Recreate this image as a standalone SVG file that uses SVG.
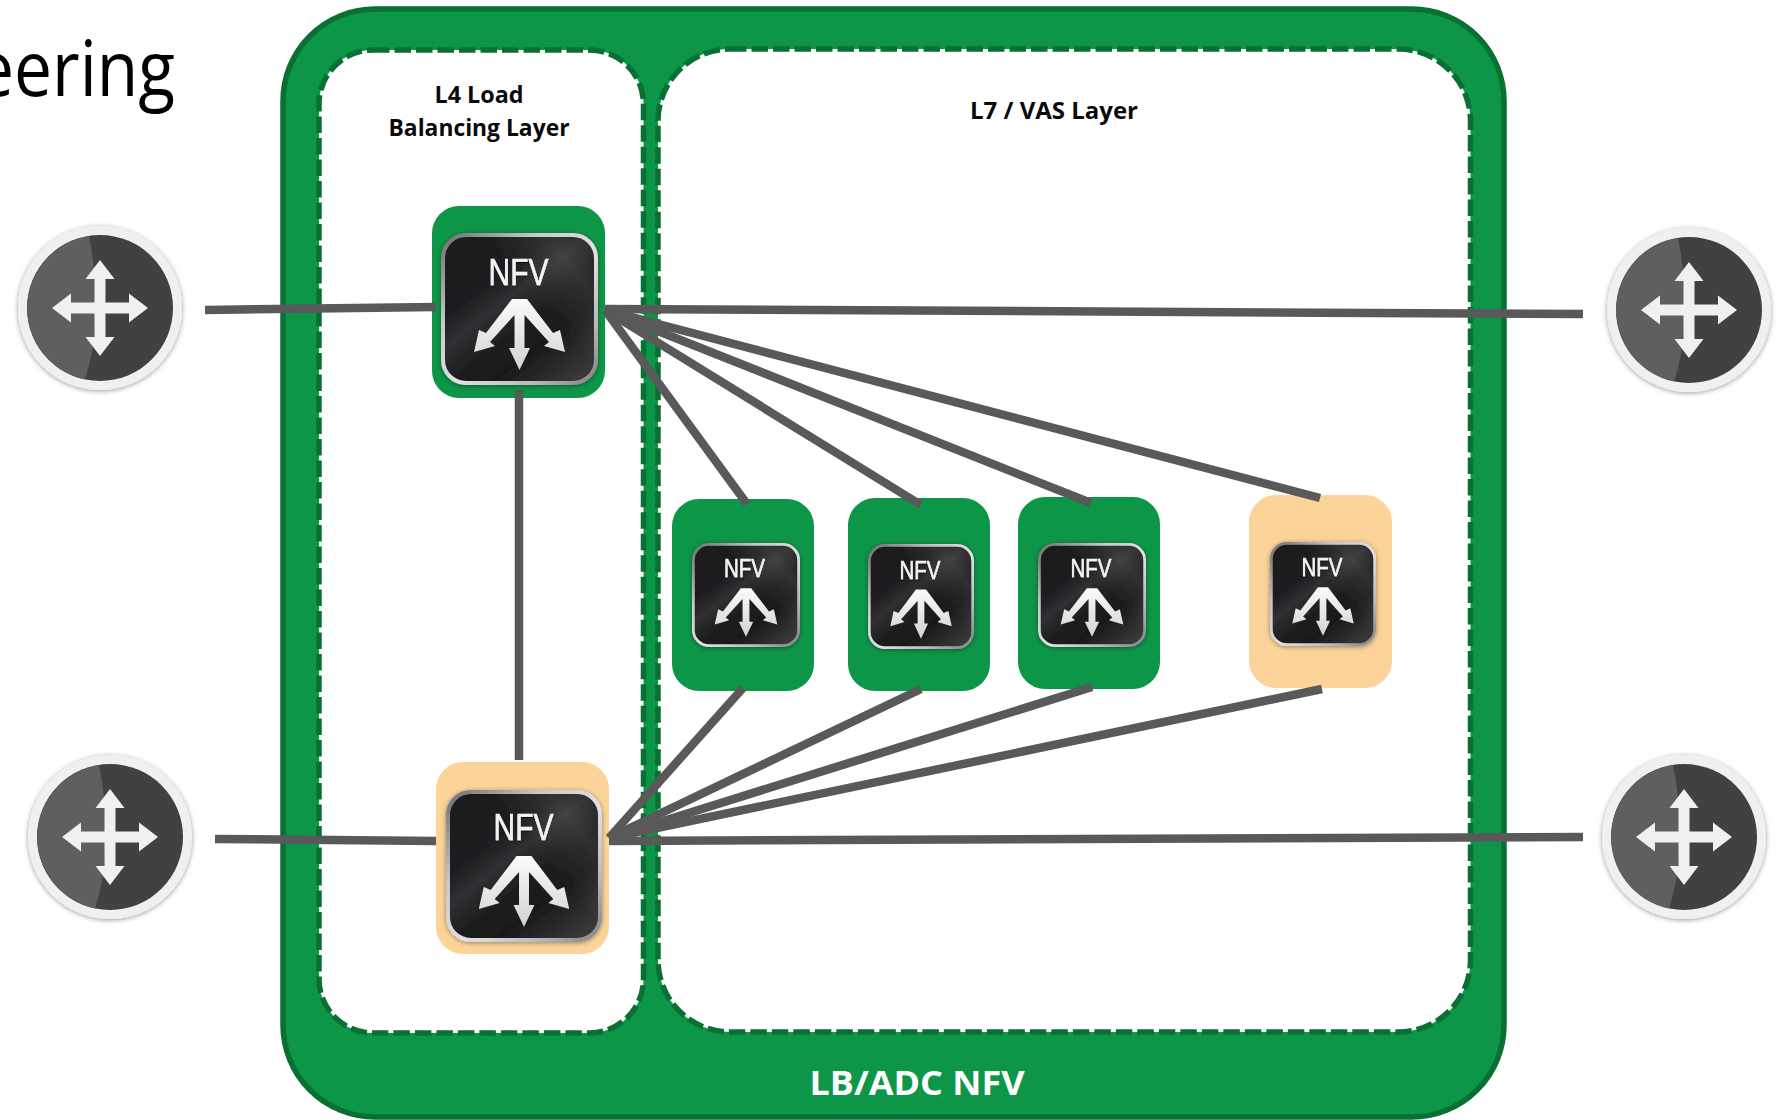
<svg xmlns="http://www.w3.org/2000/svg" xmlns:xlink="http://www.w3.org/1999/xlink" width="1789" height="1120" viewBox="0 0 1789 1120">
<style>
.bold{font-family:"Open Sans","Liberation Sans",sans-serif;font-weight:700;text-anchor:middle}
.lbl{font-size:24px;fill:#0a0a0a}
.nfv{font-family:"Liberation Sans",Arial,sans-serif;text-anchor:middle;fill:#f2f2f2;stroke:#f2f2f2;stroke-width:0.5;filter:url(#ts)}
.pillG{fill:#0e9648}
.pillO{fill:#fcd499}
.panel{fill:#fff;stroke:#087033;stroke-width:5.5;stroke-dasharray:16.5 5}
.conn{stroke:#595959;stroke-width:8.5;fill:none;stroke-linecap:butt}
</style>
<defs>
<filter id="sh" x="-15%" y="-15%" width="130%" height="130%"><feDropShadow dx="0" dy="1" stdDeviation="2.5" flood-color="#000" flood-opacity="0.4"/></filter>
<filter id="ts" x="-10%" y="-10%" width="120%" height="130%"><feDropShadow dx="0" dy="1" stdDeviation="0.6" flood-color="#000" flood-opacity="0.9"/></filter>
<linearGradient id="metal" x1="0" y1="0" x2="1" y2="1">
<stop offset="0" stop-color="#6e6e72"/><stop offset="0.3" stop-color="#c8c8ca"/><stop offset="0.55" stop-color="#e2e2e3"/><stop offset="0.8" stop-color="#b8b8ba"/><stop offset="1" stop-color="#828284"/>
</linearGradient>
<linearGradient id="dark" x1="0.1" y1="0" x2="0.9" y2="1">
<stop offset="0" stop-color="#1b1b1d"/><stop offset="0.3" stop-color="#1e1e20"/><stop offset="0.42" stop-color="#303032"/><stop offset="0.58" stop-color="#1d1d1f"/><stop offset="0.72" stop-color="#19191b"/><stop offset="1" stop-color="#3c3c3c"/>
</linearGradient>
<linearGradient id="darkB" x1="1" y1="0" x2="0" y2="0.8">
<stop offset="0" stop-color="#fff" stop-opacity="0"/><stop offset="0.2" stop-color="#fff" stop-opacity="0.09"/><stop offset="0.45" stop-color="#fff" stop-opacity="0"/><stop offset="1" stop-color="#fff" stop-opacity="0"/>
</linearGradient>
<linearGradient id="arr" x1="0" y1="0" x2="0" y2="1">
<stop offset="0" stop-color="#fbfbfb"/><stop offset="1" stop-color="#d2d2d2"/>
</linearGradient>
<symbol id="icon" viewBox="0 0 157 152" preserveAspectRatio="none">
<rect x="2" y="2" width="153" height="148" rx="23" fill="url(#dark)" stroke="url(#metal)" stroke-width="4"/>
<rect x="4" y="4" width="149" height="144" rx="21" fill="url(#darkB)"/>
<polygon fill="url(#arr)" points="86,66 112,100 119,97 124,119 103,113 108,109 83.500,82 83.500,115 89,115 78.500,137 68,115 73.500,115 73.500,82 49,109 54,113 33,119 38,97 45,100 71,66"/>
</symbol>
<g id="router">
<circle r="82" fill="#f0f0f0" filter="url(#sh)"/>
<circle r="73" fill="#414141"/>
<path d="M-11,-72 C-5,-42 -3,-10 -5,15 C-6,40 -10,55 -15,71.500 A73,73 0 0 1 -11,-72 Z" fill="#5f5f61"/>
<polygon fill="#f0f0f0" points="0,-48 14.500,-29 5.500,-29 5.500,-5.500 29,-5.500 29,-14.500 48,0 29,14.500 29,5.500 5.500,5.500 5.500,29 14.500,29 0,48 -14.500,29 -5.500,29 -5.500,5.500 -29,5.500 -29,14.500 -48,0 -29,-14.500 -29,-5.500 -5.500,-5.500 -5.500,-29 -14.500,-29"/>
</g>
</defs>

<rect width="1789" height="1120" fill="#fff"/>
<text id="title" x="-24" y="96" font-family="'Open Sans','Liberation Sans',sans-serif" font-size="76" fill="#000" textLength="199" lengthAdjust="spacingAndGlyphs">eering</text>

<g id="lb-adc-nfv">
<rect x="283" y="9" width="1221" height="1108" rx="92" fill="#0e9648" stroke="#087033" stroke-width="5.500"/>
<text class="bold" x="917" y="1095" font-size="34" fill="#fff" textLength="215" lengthAdjust="spacingAndGlyphs">LB/ADC NFV</text>
</g>

<g id="l4-layer">
<rect class="panel" x="319" y="50" width="324.500" height="983" rx="54"/>
<text class="bold lbl" x="479" y="103" textLength="89" lengthAdjust="spacingAndGlyphs">L4 Load</text>
<text class="bold lbl" x="479" y="136" textLength="181" lengthAdjust="spacingAndGlyphs">Balancing Layer</text>
</g>

<g id="l7-layer">
<rect class="panel" x="658" y="49" width="812.500" height="983" rx="72"/>
<text class="bold lbl" x="1054" y="119" textLength="168" lengthAdjust="spacingAndGlyphs">L7 / VAS Layer</text>
</g>

<g id="router-left-top"><use href="#router" x="100" y="308"/></g>
<g id="router-left-bottom"><use href="#router" x="110" y="837"/></g>
<g id="router-right-top"><use href="#router" x="1689" y="310"/></g>
<g id="router-right-bottom"><use href="#router" x="1684" y="837"/></g>

<g id="nfv-l4-top">
<rect class="pillG" x="432" y="206" width="173" height="192" rx="27"/>
<use href="#icon" x="441" y="233" width="157" height="152" filter="url(#sh)"/>
<text class="nfv" x="518.500" y="285" font-size="36" textLength="60" lengthAdjust="spacingAndGlyphs">NFV</text>
</g>
<g id="nfv-l4-bottom">
<rect class="pillO" x="436" y="762" width="173" height="192" rx="27"/>
<use href="#icon" x="446" y="790" width="156" height="152" filter="url(#sh)"/>
<text class="nfv" x="523.500" y="840" font-size="36" textLength="60" lengthAdjust="spacingAndGlyphs">NFV</text>
</g>
<g id="nfv-l7-1">
<rect class="pillG" x="672" y="499" width="142" height="192" rx="27"/>
<use href="#icon" x="692" y="543" width="108" height="104" filter="url(#sh)"/>
<text class="nfv" x="744.500" y="577" font-size="25" textLength="41" lengthAdjust="spacingAndGlyphs">NFV</text>
</g>
<g id="nfv-l7-2">
<rect class="pillG" x="848" y="498" width="142" height="193" rx="27"/>
<use href="#icon" x="868" y="544" width="106" height="105" filter="url(#sh)"/>
<text class="nfv" x="920" y="579" font-size="25" textLength="41" lengthAdjust="spacingAndGlyphs">NFV</text>
</g>
<g id="nfv-l7-3">
<rect class="pillG" x="1018" y="497" width="142" height="192" rx="27"/>
<use href="#icon" x="1038" y="543" width="108" height="104" filter="url(#sh)"/>
<text class="nfv" x="1091" y="577" font-size="25" textLength="41" lengthAdjust="spacingAndGlyphs">NFV</text>
</g>
<g id="nfv-l7-4">
<rect class="pillO" x="1249" y="495" width="143" height="193" rx="27"/>
<use href="#icon" x="1270" y="542" width="106" height="104" filter="url(#sh)"/>
<text class="nfv" x="1322" y="576" font-size="25" textLength="41" lengthAdjust="spacingAndGlyphs">NFV</text>
</g>

<g id="connectors" class="conn">
<line x1="205" y1="310" x2="436" y2="307"/>
<line x1="605" y1="309" x2="1583" y2="314"/>
<line x1="215" y1="839" x2="436" y2="841"/>
<line x1="609" y1="841" x2="1583" y2="837"/>
<line x1="519" y1="390" x2="519" y2="760"/>
<line x1="605" y1="310" x2="747" y2="504"/>
<line x1="605" y1="310" x2="921" y2="505"/>
<line x1="605" y1="310" x2="1091" y2="503"/>
<line x1="605" y1="310" x2="1320" y2="498"/>
<line x1="609" y1="838" x2="743" y2="688"/>
<line x1="609" y1="838" x2="921" y2="689"/>
<line x1="609" y1="838" x2="1092" y2="687"/>
<line x1="609" y1="838" x2="1322" y2="689"/>
</g>
</svg>
